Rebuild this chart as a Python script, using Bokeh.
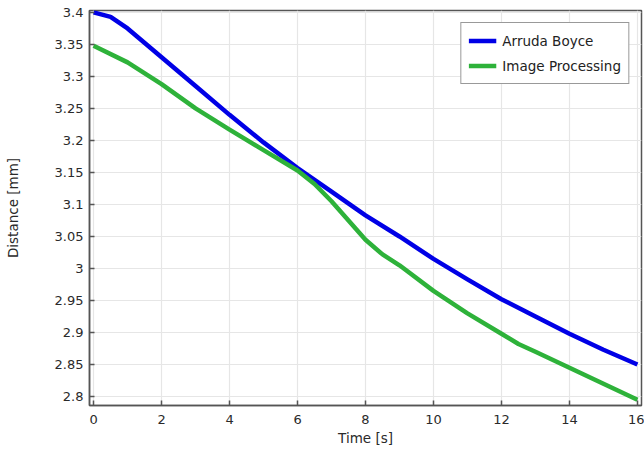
from bokeh.plotting import figure
from bokeh.models import (FixedTicker, CustomJSTickFormatter, Legend,
                          LegendItem, Range1d)
from bokeh.embed import file_html
from bokeh.resources import INLINE

# ---- data ----
time_ab = [0, 0.5, 1, 2, 3, 4, 5, 6, 7, 8, 9, 10, 11, 12, 13, 14, 15, 16]
dist_ab = [3.400, 3.393, 3.375, 3.330, 3.285, 3.240, 3.197, 3.157, 3.120, 3.083,
           3.050, 3.015, 2.983, 2.952, 2.925, 2.898, 2.873, 2.850]

time_ip = [0, 1, 2, 3, 4, 5, 6, 6.5, 7, 7.5, 8, 8.5, 9, 10, 11, 12, 12.5, 13, 14, 15, 16]
dist_ip = [3.348, 3.322, 3.288, 3.250, 3.217, 3.185, 3.153, 3.132, 3.105, 3.075,
           3.045, 3.022, 3.005, 2.965, 2.930, 2.898, 2.882, 2.870, 2.845, 2.820, 2.795]

x_ticks = [0, 2, 4, 6, 8, 10, 12, 14, 16]
y_ticks = [2.8, 2.85, 2.9, 2.95, 3.0, 3.05, 3.1, 3.15, 3.2, 3.25, 3.3, 3.35, 3.4]

series_names = ["Arruda Boyce", "Image Processing"]
series_colors = ["#0000e6", "#2eb23a"]

FONT = "DejaVu Sans"
TXT = "#2a2a2a"
AX = "#555555"

p = figure(width=644, height=449, output_backend="svg", toolbar_location=None,
           x_range=Range1d(-0.12, 16.12), y_range=Range1d(2.786, 3.403),
           min_border_left=89, min_border_right=3, min_border_top=10,
           min_border_bottom=44)
p.background_fill_color = "white"
p.border_fill_color = "white"
p.outline_line_color = AX
p.outline_line_width = 1.5

fmt = CustomJSTickFormatter(code="return String(Math.round(tick*100)/100);")

for ax in (p.xaxis[0], p.yaxis[0]):
    ax.major_tick_in = 5
    ax.major_tick_out = 0
    ax.minor_tick_line_color = None
    ax.axis_line_color = AX
    ax.axis_line_width = 1.5
    ax.major_tick_line_color = AX
    ax.major_tick_line_width = 1.5
    ax.major_label_text_font = FONT
    ax.major_label_text_font_size = "13px"
    ax.major_label_text_color = TXT
    ax.axis_label_text_font = FONT
    ax.axis_label_text_font_size = "13.5px"
    ax.axis_label_text_font_style = "normal"
    ax.axis_label_text_color = TXT
    ax.formatter = fmt

p.xaxis[0].ticker = FixedTicker(ticks=x_ticks)
p.yaxis[0].ticker = FixedTicker(ticks=y_ticks)
p.xaxis[0].axis_label = "Time [s]"
p.yaxis[0].axis_label = "Distance [mm]"
p.xaxis[0].major_label_standoff = 9
p.xaxis[0].axis_label_standoff = 3
p.yaxis[0].major_label_standoff = 6
p.yaxis[0].axis_label_standoff = 31

p.xgrid.ticker = FixedTicker(ticks=x_ticks)
p.ygrid.ticker = FixedTicker(ticks=y_ticks)
p.grid.grid_line_color = "#e6e6e6"
p.grid.grid_line_width = 1.2

r_ab = p.line(time_ab, dist_ab, line_color=series_colors[0], line_width=4.5, line_join="round")
r_ip = p.line(time_ip, dist_ip, line_color=series_colors[1], line_width=4.5, line_join="round")

legend = Legend(items=[LegendItem(label=n, renderers=[r])
                       for n, r in zip(series_names, [r_ab, r_ip])],
                location="top_right")
legend.margin = 12
legend.padding = 7
legend.spacing = 4
legend.glyph_width = 28
legend.glyph_height = 21
legend.label_height = 21
legend.label_standoff = 6
legend.label_text_font = FONT
legend.label_text_font_size = "13.5px"
legend.label_text_color = "#222222"
legend.border_line_color = "#333333"
legend.border_line_width = 1.5
legend.background_fill_color = "white"
legend.background_fill_alpha = 1.0
p.add_layout(legend)

open("out.html", "w").write(file_html(p, INLINE))
